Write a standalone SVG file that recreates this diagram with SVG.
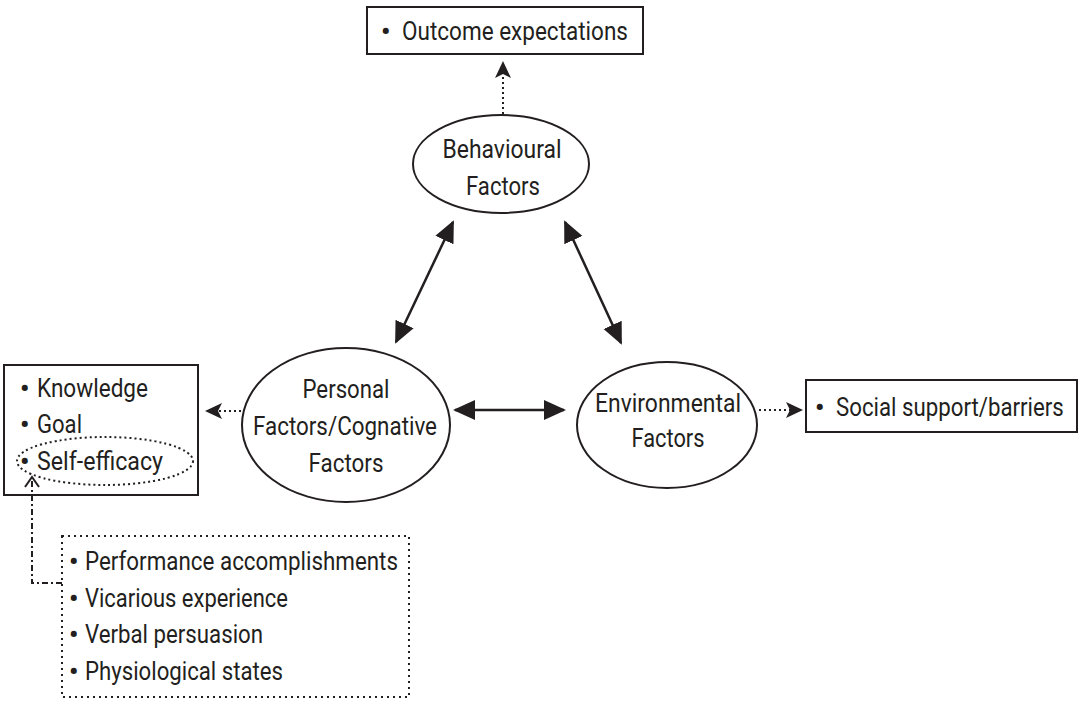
<svg xmlns="http://www.w3.org/2000/svg" width="1081" height="702" viewBox="0 0 1081 702">
<style>
text{font-family:Roboto,"Liberation Sans",sans-serif;fill:#231f20;font-size:25px}
.c{text-anchor:middle}
.b{font-weight:bold;font-size:26px}
.box{fill:#fff;stroke:#231f20;stroke-width:2}
.ell{fill:#fff;stroke:#231f20;stroke-width:2}
.dot{fill:none;stroke:#231f20;stroke-width:2;stroke-dasharray:2 3}
.solid{fill:none;stroke:#231f20;stroke-width:2.5}
</style>
<defs>
<marker id="big" markerUnits="userSpaceOnUse" markerWidth="24" markerHeight="22" viewBox="0 0 24 22" refX="20" refY="11" orient="auto-start-reverse">
<path d="M0,1 L22,11 L0,21 z" fill="#231f20"/>
</marker>
<marker id="small" markerUnits="userSpaceOnUse" markerWidth="18" markerHeight="16" viewBox="0 0 18 16" refX="15" refY="8" orient="auto">
<path d="M0,0 L17,8 L0,16 L4,8 z" fill="#231f20"/>
</marker>
</defs>
<g id="outcome">
<rect class="box" x="367" y="7" width="276" height="47"/>
<text class="b" x="381" y="40">•</text>
<text x="402" y="40" textLength="226" lengthAdjust="spacingAndGlyphs">Outcome expectations</text>
</g>
<g id="behavioural">
<ellipse class="ell" cx="501" cy="164" rx="88" ry="49"/>
<text class="c" x="502" y="158" textLength="119" lengthAdjust="spacingAndGlyphs">Behavioural</text>
<text class="c" x="503" y="195" textLength="74" lengthAdjust="spacingAndGlyphs">Factors</text>
</g>
<g id="personal">
<ellipse class="ell" cx="346" cy="425" rx="104" ry="77"/>
<text class="c" x="346" y="398" textLength="87" lengthAdjust="spacingAndGlyphs">Personal</text>
<text class="c" x="345" y="435" textLength="184" lengthAdjust="spacingAndGlyphs">Factors/Cognative</text>
<text class="c" x="346" y="472" textLength="75" lengthAdjust="spacingAndGlyphs">Factors</text>
</g>
<g id="environmental">
<ellipse class="ell" cx="667" cy="425" rx="90" ry="63"/>
<text class="c" x="668" y="412" textLength="146" lengthAdjust="spacingAndGlyphs">Environmental</text>
<text class="c" x="668" y="447" textLength="73" lengthAdjust="spacingAndGlyphs">Factors</text>
</g>
<g id="social">
<rect class="box" x="806" y="380" width="271" height="52"/>
<text class="b" x="815" y="416">•</text>
<text transform="translate(836 416) scale(0.85 1)" x="0" y="0" textLength="268" lengthAdjust="spacingAndGlyphs">Social support/barriers</text>
</g>
<g id="personal-list">
<rect class="box" x="4" y="365" width="194" height="130"/>
<text class="b" x="20" y="397">•</text>
<text x="37" y="397" textLength="111" lengthAdjust="spacingAndGlyphs">Knowledge</text>
<text class="b" x="20" y="433">•</text>
<text x="37" y="433" textLength="45" lengthAdjust="spacingAndGlyphs">Goal</text>
<ellipse class="dot" cx="105" cy="461" rx="88" ry="24"/>
<text class="b" x="20" y="470">•</text>
<text x="37" y="470" textLength="126" lengthAdjust="spacingAndGlyphs">Self-efficacy</text>
</g>
<g id="sources">
<rect x="62" y="536" width="347" height="161" fill="none" stroke="#231f20" stroke-width="2" stroke-dasharray="2 4"/>
<text class="b" x="69" y="570">•</text>
<text x="85" y="570" textLength="313" lengthAdjust="spacingAndGlyphs">Performance accomplishments</text>
<text class="b" x="69" y="607">•</text>
<text x="85" y="607" textLength="203" lengthAdjust="spacingAndGlyphs">Vicarious experience</text>
<text class="b" x="69" y="643">•</text>
<text x="85" y="643" textLength="178" lengthAdjust="spacingAndGlyphs">Verbal persuasion</text>
<text class="b" x="69" y="680">•</text>
<text x="85" y="680" textLength="198" lengthAdjust="spacingAndGlyphs">Physiological states</text>
</g>
<g id="connectors">
<line class="solid" x1="455" y1="410" x2="564" y2="410" marker-start="url(#big)" marker-end="url(#big)"/>
<line class="solid" x1="453" y1="222" x2="396" y2="342" marker-start="url(#big)" marker-end="url(#big)"/>
<line class="solid" x1="565" y1="222" x2="621" y2="343" marker-start="url(#big)" marker-end="url(#big)"/>
<line class="dot" x1="503" y1="114" x2="503" y2="63" marker-end="url(#small)"/>
<line class="dot" x1="241" y1="411" x2="207" y2="411" marker-end="url(#small)"/>
<line class="dot" x1="759" y1="410" x2="801" y2="410" marker-end="url(#small)"/>
<path d="M62,583 L32,583 L32,479" fill="none" stroke="#231f20" stroke-width="2" stroke-dasharray="6 3 2 3"/>
<path d="M25,487 L32,477 L39,487" fill="none" stroke="#231f20" stroke-width="2"/>
</g>
</svg>
